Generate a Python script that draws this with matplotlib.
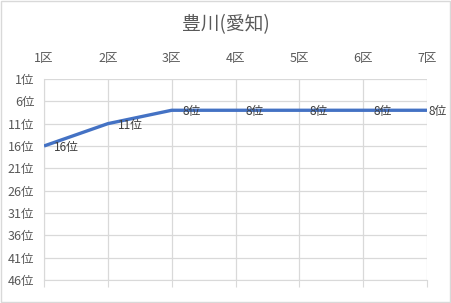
import matplotlib
matplotlib.use("Agg")
import matplotlib.pyplot as plt

plt.rcParams['font.family'] = ['Noto Sans CJK JP', 'DejaVu Sans']

# data
sections = ["1区", "2区", "3区", "4区", "5区", "6区", "7区"]
ranks = [16, 11, 8, 8, 8, 8, 8]
rank_ticks = [1, 6, 11, 16, 21, 26, 31, 36, 41, 46]

grey = "#595959"
grid_c = "#d9d9d9"

fig = plt.figure(figsize=(4.51, 3.03), dpi=100)
ax = fig.add_axes([44/451, 1-280/303, (427-44)/451, (280-79)/303])

x = list(range(len(sections)))
ax.plot(x, ranks, color="#4472C4", linewidth=2.4, solid_capstyle="butt", zorder=3)
for xi, r in zip(x, ranks):
    # last label sits right at the line end, like the original
    dx = 1 if xi == x[-1] else 7.5
    ax.annotate(f"{r}位", (xi, r), xytext=(dx, -1), textcoords="offset points",
                ha="left", va="center", fontsize=8.5, color="#404040", zorder=4)

ax.set_xlim(0, len(sections) - 1)
ax.set_ylim(46, 1)
ax.set_xticks(x)
ax.set_xticklabels(sections)
ax.set_yticks(rank_ticks)
ax.set_yticklabels([f"{t}位" for t in rank_ticks])
ax.xaxis.tick_top()
ax.tick_params(axis="x", top=False, bottom=True, labeltop=True, labelbottom=False,
               length=5, color=grid_c, labelsize=9, labelcolor=grey, pad=5)
ax.tick_params(axis="y", length=0, labelsize=9, labelcolor=grey, pad=7)

ax.grid(True, color=grid_c, linewidth=0.9)
ax.set_axisbelow(True)
for s in ax.spines.values():
    s.set_visible(False)
ax.spines["left"].set_visible(True)
ax.spines["left"].set_color(grid_c)
ax.spines["bottom"].set_visible(True)
ax.spines["bottom"].set_color(grid_c)

fig.text(0.5, 1-25/303, "豊川(愛知)", ha="center", va="center", fontsize=13.5, color=grey)

fig.patches.append(plt.Rectangle((0.002, 0.003), 0.995, 0.994, transform=fig.transFigure,
                                 fill=False, edgecolor="#d9d9d9", linewidth=1))

plt.savefig("out.png", dpi=100)
